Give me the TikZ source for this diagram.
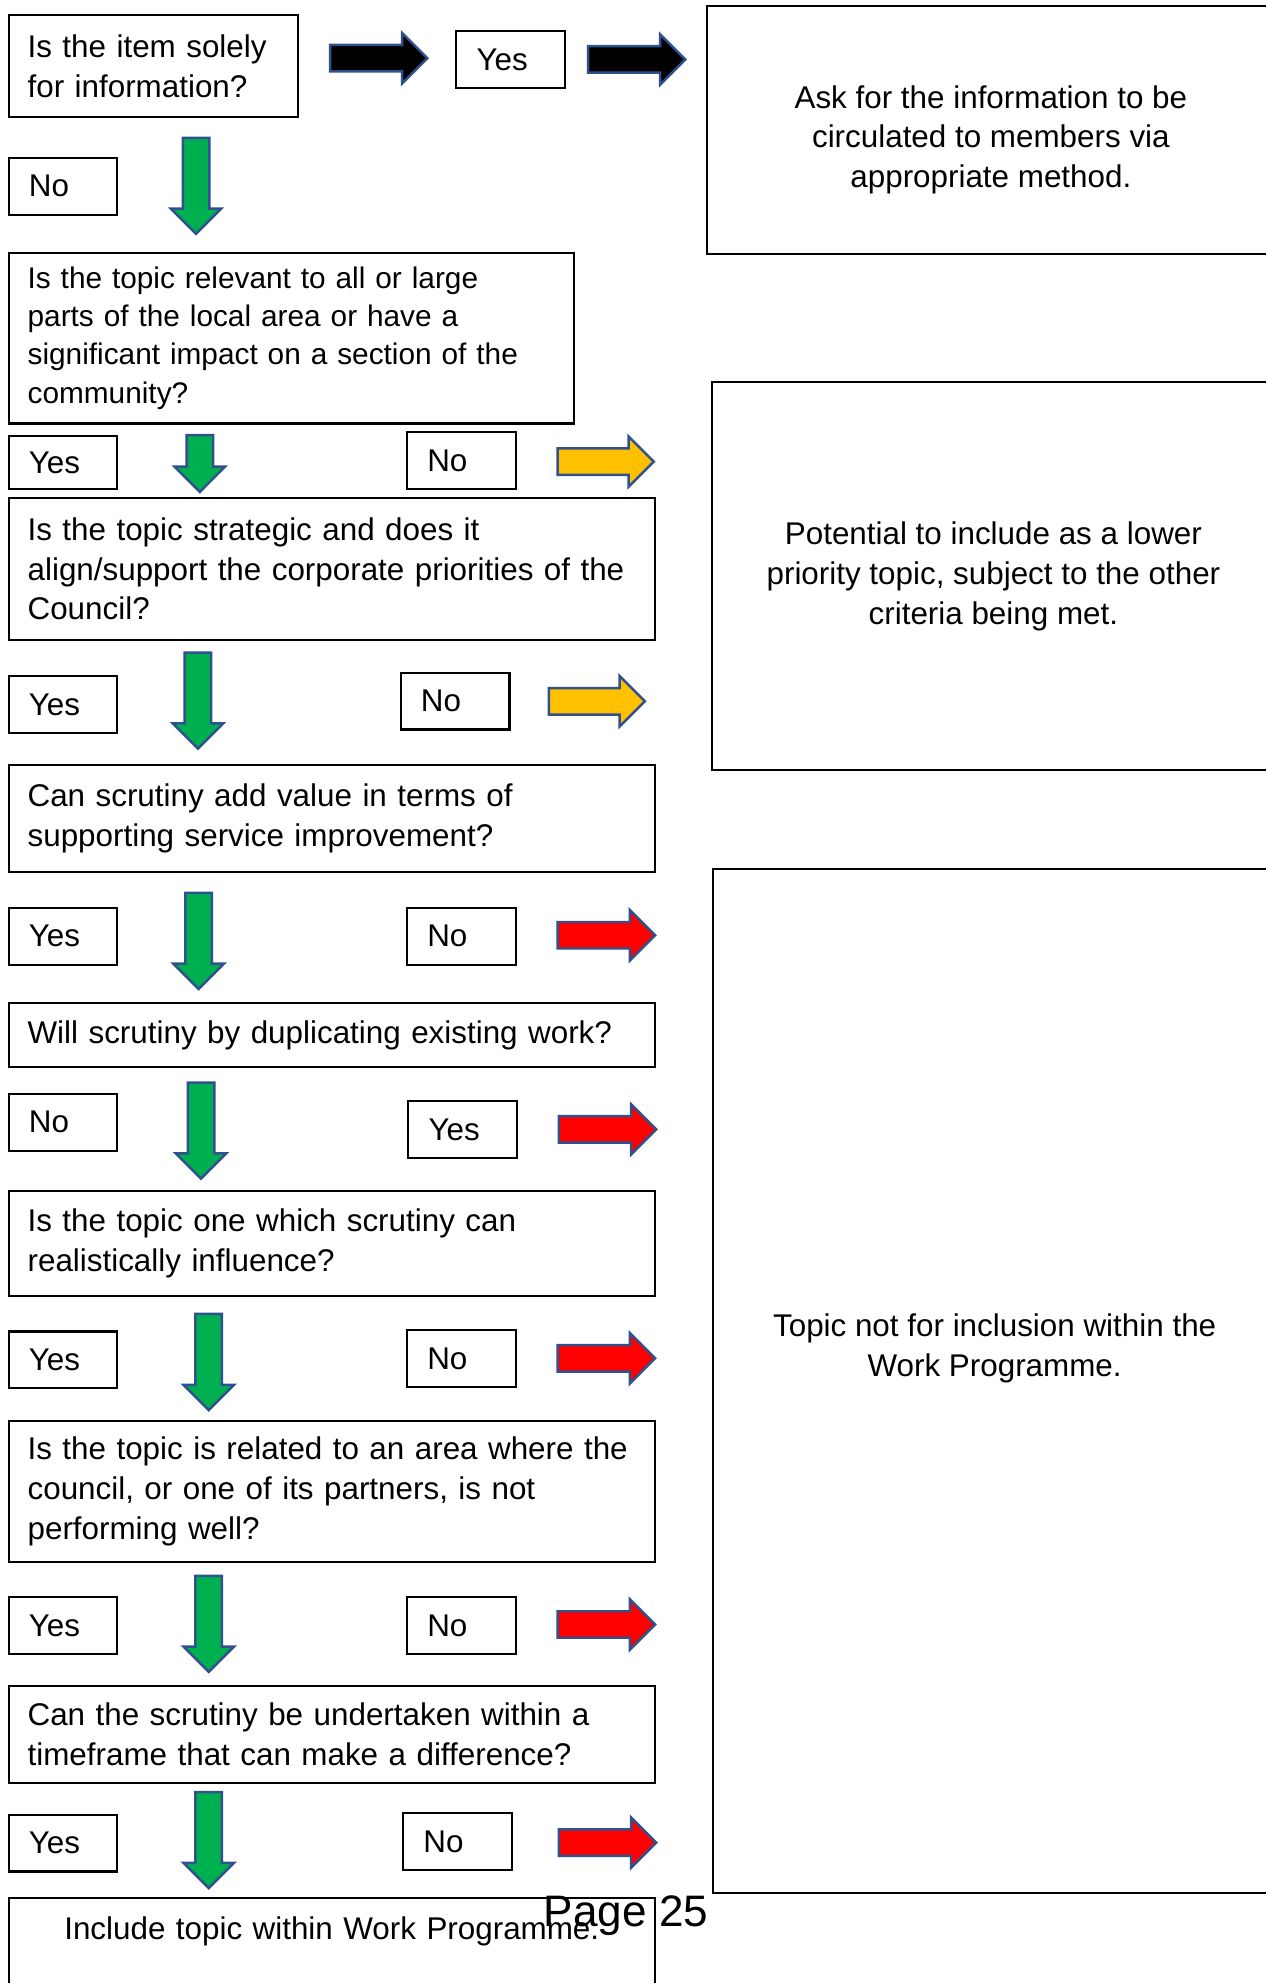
\documentclass[tikz,border=0pt]{standalone}
\usepackage{fontspec}
\setmainfont{Liberation Sans}
\usepackage{xcolor}
\usetikzlibrary{positioning}
\usetikzlibrary{shapes.arrows}

\definecolor{arrowline}{HTML}{2F528F}
\definecolor{gogreen}{HTML}{00B050}
\definecolor{maybeamber}{HTML}{FFC000}
\definecolor{stopred}{HTML}{FF0000}
\newcommand{\pxu}{0.0126cm}

\begin{document}
\begin{tikzpicture}[x=\pxu,y=-\pxu,font=\fontsize{8.9}{11.3}\selectfont,
    question/.style={draw,line width=0.6pt,anchor=north west,align=left,
                     inner xsep=15*\pxu,inner ysep=0pt,text width=481*\pxu},
    answer/.style={draw,line width=0.6pt,anchor=north west,align=left,
                   inner xsep=16*\pxu,text width=54*\pxu,minimum height=45*\pxu},
    outcome/.style={draw,line width=0.6pt,anchor=north west},
    block/.style={single arrow,draw=arrowline,line width=0.7pt,inner sep=0pt,anchor=tail,
                  inner ysep=9.5*\pxu,single arrow head extend=9.5*\pxu,
                  single arrow tip angle=90,minimum width=38*\pxu,minimum height=77*\pxu},
    down/.style={block,fill=gogreen,rotate=-90,minimum height=76*\pxu}]
\useasboundingbox (0,0) rectangle (1001,1568);
\clip (0,0) rectangle (1001,1568);

% right hand outcomes
\node[outcome,minimum width=452*\pxu,minimum height=196*\pxu] (info) at (558,4) {};
\node[align=center] (infotext) at (783.5,110.5) {Ask for the information to be\\circulated to members via\\appropriate method.};
\node[outcome,minimum width=448*\pxu,minimum height=307*\pxu] (lower) at (562,301) {};
\node[align=center] (lowertext) at (785.5,455.5) {Potential to include as a lower\\priority topic, subject to the other\\criteria being met.};
\node[outcome,minimum width=447*\pxu,minimum height=810*\pxu] (reject) at (563,686) {};
\node[align=center] (rejecttext) at (786.5,1066.5) {Topic not for inclusion within the\\Work Programme.};

% questions
\node[question,text width=199*\pxu,minimum height=81*\pxu] (q1) at (6,11) {Is the item solely\\for information?};
\node[question,text width=417*\pxu,minimum height=135*\pxu,
      font=\fontsize{8.45}{10.85}\selectfont] (q2) at (6,199) {Is the topic relevant to all or large\\parts of the local area or have a\\significant impact on a section of the\\community?};
\node[question,minimum height=112*\pxu] (q3) at (6,393) {Is the topic strategic and does it\\align/support the corporate priorities of the\\Council?};
\node[question,minimum height=85*\pxu] (q4) at (6,604) {Can scrutiny add value in terms of\\supporting service improvement?};
\node[question,minimum height=51*\pxu] (q5) at (6,792) {Will scrutiny by duplicating existing work?};
\node[question,minimum height=83*\pxu] (q6) at (6,941) {Is the topic one which scrutiny can\\realistically influence?};
\node[question,minimum height=111*\pxu] (q7) at (6,1123) {Is the topic is related to an area where the\\council, or one of its partners, is not\\performing well?};
\node[question,minimum height=77*\pxu] (q8) at (6,1332) {Can the scrutiny be undertaken within a\\timeframe that can make a difference?};
\node[question,align=center,text height=33*\pxu,text depth=90*\pxu] (q9) at (6,1500) {Include topic within Work Programme.};

% answers
\node[answer] (yes1) at (360,24) {Yes};
\node[answer] (no1) at (6,124) {No};
\node[answer,minimum height=42*\pxu] (yes2) at (6,344) {Yes};
\node[answer] (no2) at (321,341) {No};
\node[answer] (yes3) at (6,534) {Yes};
\node[answer] (no3) at (316,531) {No};
\node[answer] (yes4) at (6,717) {Yes};
\node[answer] (no4) at (321,717) {No};
\node[answer] (no5) at (6,864) {No};
\node[answer] (yes5) at (322,870) {Yes};
\node[answer] (yes6) at (6,1052) {Yes};
\node[answer] (no6) at (321,1051) {No};
\node[answer] (yes7) at (6,1262) {Yes};
\node[answer] (no7) at (321,1262) {No};
\node[answer] (yes8) at (6,1434) {Yes};
\node[answer] (no8) at (318,1433) {No};

% block arrows
\node[block,fill=black] (b1) at (260,46) {};
\node[block,fill=black] (b2) at (464,47) {};
\node[down] (g1) at (155,108) {};
\node[down,minimum height=45*\pxu] (g2) at (158,343) {};
\node[down] (g3) at (156.5,515) {};
\node[down] (g4) at (157,705) {};
\node[down] (g5) at (159,855) {};
\node[down] (g6) at (165,1038) {};
\node[down] (g7) at (165,1245) {};
\node[down] (g8) at (165,1416) {};
\node[block,fill=maybeamber,minimum height=76*\pxu] (a1) at (440,365) {};
\node[block,fill=maybeamber,minimum height=76*\pxu] (a2) at (433,554.5) {};
\node[block,fill=stopred] (r1) at (440,739.5) {};
\node[block,fill=stopred] (r2) at (441,893) {};
\node[block,fill=stopred] (r3) at (440,1074) {};
\node[block,fill=stopred] (r4) at (440,1284.5) {};
\node[block,fill=stopred] (r5) at (441,1457) {};

\node[font=\fontsize{12.5}{15}\selectfont] (page) at (495,1515) {Page 25};
\end{tikzpicture}
\end{document}
